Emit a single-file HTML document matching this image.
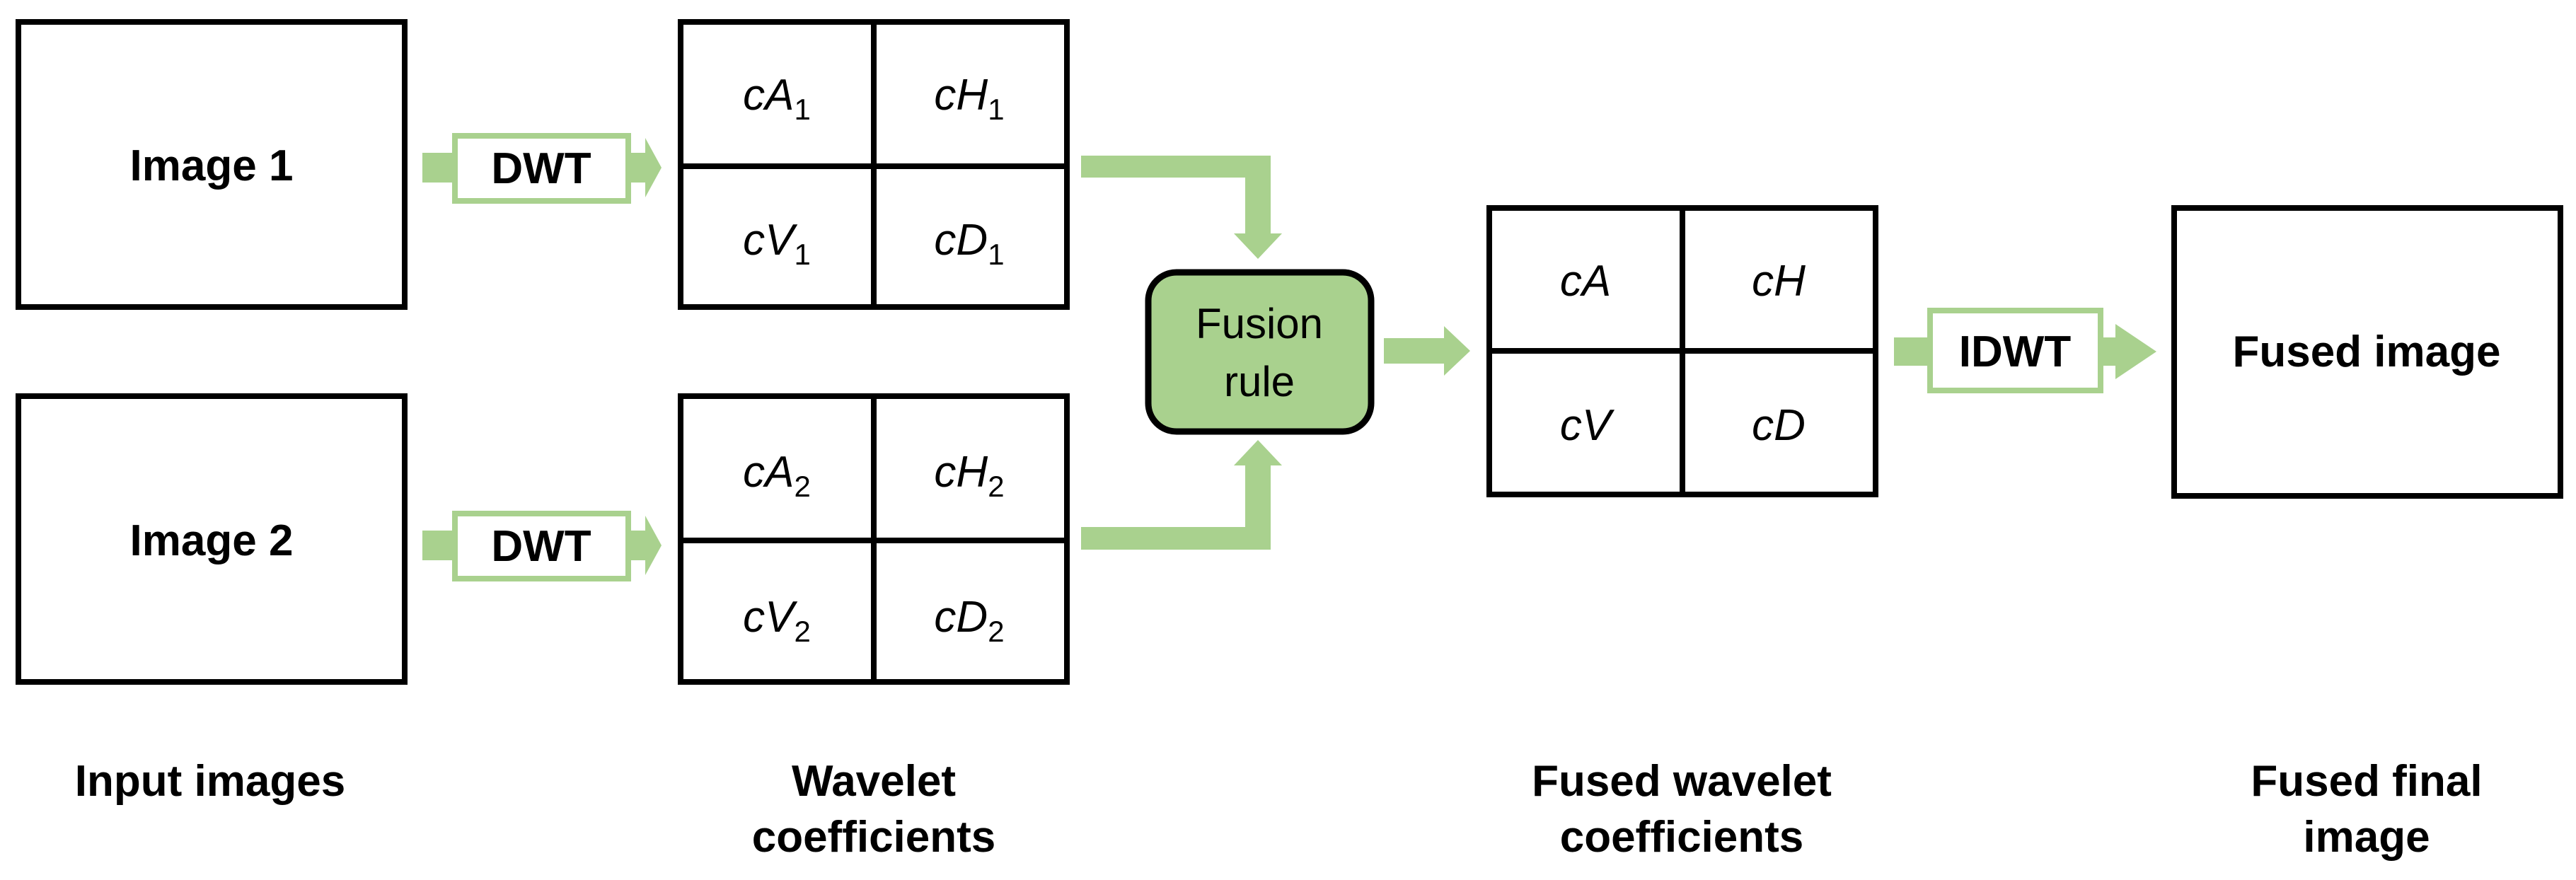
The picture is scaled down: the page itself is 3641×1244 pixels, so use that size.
<!DOCTYPE html>
<html><head><meta charset="utf-8"><style>
html,body{margin:0;padding:0;background:#fff}
svg{display:block}
text{font-family:"Liberation Sans",Arial,sans-serif}
.b{font-weight:bold;font-size:62px}
.i{font-style:italic;font-size:62px}
.s{font-size:42px;font-style:normal}
</style></head><body>
<svg width="3641" height="1244" viewBox="0 0 3641 1244" xmlns="http://www.w3.org/2000/svg">
<g fill="none" stroke="#000" stroke-width="8">
<rect x="26" y="31" width="546" height="403"/>
<rect x="26" y="560" width="546" height="404"/>
<rect x="962" y="31" width="546" height="403"/>
<line x1="1235" y1="31" x2="1235" y2="434"/><line x1="962" y1="235" x2="1508" y2="235"/>
<rect x="962" y="560" width="546" height="404"/>
<line x1="1235" y1="560" x2="1235" y2="964"/><line x1="962" y1="764" x2="1508" y2="764"/>
<rect x="2105" y="294" width="546" height="405"/>
<line x1="2378" y1="294" x2="2378" y2="699"/><line x1="2105" y1="496" x2="2651" y2="496"/>
<rect x="3073" y="294" width="546" height="407"/>
</g>
<g fill="#a9d18e">
<!-- DWT1 -->
<rect x="597" y="216" width="45" height="42"/>
<polygon points="890,216 912,216 912,195 935,237 912,279 912,258 890,258"/>
<!-- DWT2 -->
<rect x="597" y="750" width="45" height="42"/>
<polygon points="890,750 912,750 912,729 935,771 912,813 912,792 890,792"/>
<!-- top connector -->
<polygon points="1528,220 1796,220 1796,330 1812,330 1778,366 1744,330 1760,330 1760,251 1528,251"/>
<!-- bottom connector -->
<polygon points="1528,777 1796,777 1796,658 1812,658 1778,622 1744,658 1760,658 1760,745 1528,745"/>
<!-- fusion -> grid -->
<polygon points="1956,478 2041,478 2041,461 2078,496 2041,531 2041,514 1956,514"/>
<!-- IDWT -->
<rect x="2677" y="477" width="50" height="40"/>
<polygon points="2970,477 2990,477 2990,458 3048,497 2990,536 2990,517 2970,517"/>
</g>
<g fill="#fff" stroke="#a9d18e" stroke-width="8">
<rect x="643" y="192" width="245" height="92"/>
<rect x="643" y="726" width="245" height="92"/>
<rect x="2728" y="439" width="241" height="113"/>
</g>
<rect x="1623" y="385" width="315" height="225" rx="40" fill="#a9d18e" stroke="#000" stroke-width="9"/>
<g class="b" text-anchor="middle">
<text x="299" y="255">Image 1</text>
<text x="299" y="785">Image 2</text>
<text x="765" y="259">DWT</text>
<text x="765" y="793">DWT</text>
<text x="2848" y="518">IDWT</text>
<text x="3345" y="518">Fused image</text>
<text x="297" y="1125">Input images</text>
<text x="1235" y="1125">Wavelet</text>
<text x="1235" y="1204">coefficients</text>
<text x="2377" y="1125">Fused wavelet</text>
<text x="2377" y="1204">coefficients</text>
<text x="3345" y="1125">Fused final</text>
<text x="3345" y="1204">image</text>
</g>
<g text-anchor="middle" font-size="60" font-family="Liberation Sans,Arial,sans-serif">
<text x="1780" y="478">Fusion</text>
<text x="1780" y="560">rule</text>
</g>
<g class="i" text-anchor="middle">
<text x="1098" y="155">cA<tspan class="s" dy="14">1</tspan></text>
<text x="1370" y="155">cH<tspan class="s" dy="14">1</tspan></text>
<text x="1098" y="360">cV<tspan class="s" dy="14">1</tspan></text>
<text x="1370" y="360">cD<tspan class="s" dy="14">1</tspan></text>
<text x="1098" y="688">cA<tspan class="s" dy="14">2</tspan></text>
<text x="1370" y="688">cH<tspan class="s" dy="14">2</tspan></text>
<text x="1098" y="893">cV<tspan class="s" dy="14">2</tspan></text>
<text x="1370" y="893">cD<tspan class="s" dy="14">2</tspan></text>
<text x="2241" y="418">cA</text>
<text x="2514" y="418">cH</text>
<text x="2241" y="622">cV</text>
<text x="2514" y="622">cD</text>
</g>
</svg>
</body></html>
